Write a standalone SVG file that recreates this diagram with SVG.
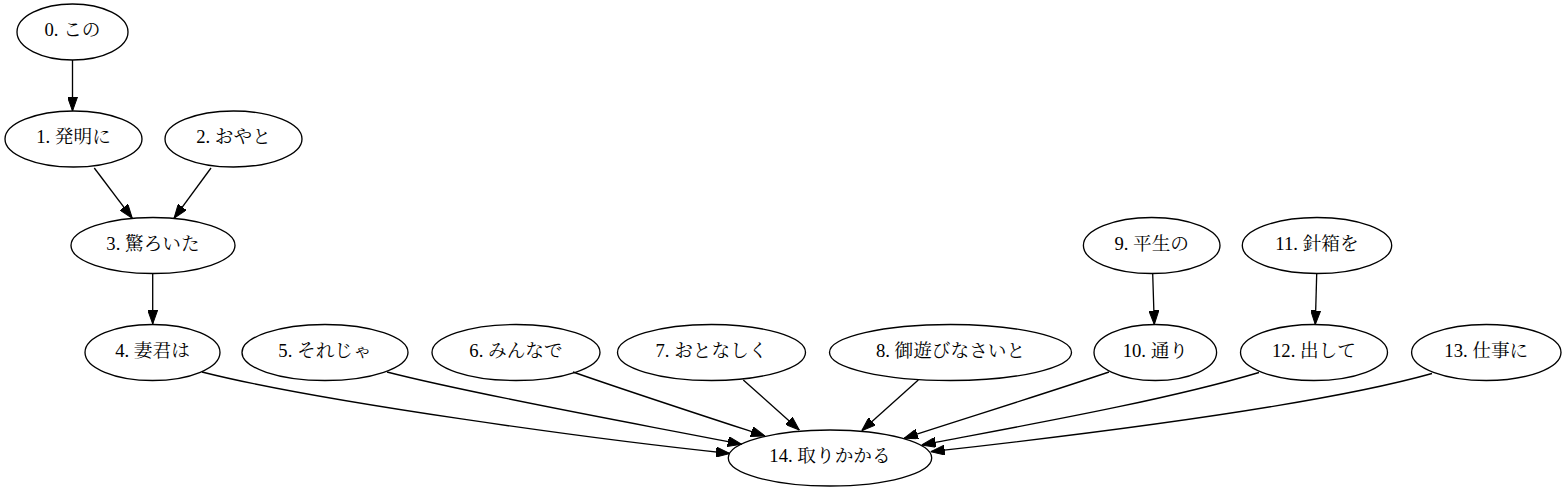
<svg xmlns="http://www.w3.org/2000/svg" width="1566" height="493" viewBox="0 0 1566 493">
<defs>
<style>
.node ellipse{fill:none;stroke:#000;stroke-width:1.33}
.node text{font-family:"Liberation Serif","Noto Serif CJK JP","Noto Sans CJK JP",serif;font-size:18.67px;text-anchor:middle;fill:#000}
.edges path{fill:none;stroke:#000;stroke-width:1.33;marker-end:url(#arrow)}
</style>
<marker id="arrow" markerUnits="userSpaceOnUse" markerWidth="14" markerHeight="10" refX="14" refY="5" orient="auto" viewBox="0 0 14 10">
<path d="M0,0 L14,5 L0,10 Z" fill="#000" stroke="#000" stroke-width="1"/>
</marker>
</defs>
<rect width="1566" height="493" fill="#fff"/>
<g class="edges" id="edges">
<path d="M72.5,60 L72.5,111"/>
<path d="M94.3,168 L132.3,218.3"/>
<path d="M211,168 L174,218.3"/>
<path d="M152.7,273.5 L152.7,324"/>
<path d="M1152.7,274 L1154.3,324.5"/>
<path d="M1316.7,274 L1315.3,324.5"/>
<path d="M202,372 C320,402 600,440 730,453.5"/>
<path d="M387,372 C480,396 650,426 741.7,444.3"/>
<path d="M573,372 C630,392 710,418 765,436"/>
<path d="M743.3,380 L799.3,430"/>
<path d="M918.3,380 L861.7,430.7"/>
<path d="M1109,372 C1050,392 960,420 904,438.3"/>
<path d="M1259,372.5 C1160,402 1010,428 921.7,445"/>
<path d="M1432,373.5 C1320,405 1080,435 930.7,451.7"/>
</g>
<g class="node" id="node0"><ellipse cx="72.5" cy="32" rx="55.5" ry="28"/><text x="72.5" y="36">0. この</text></g>
<g class="node" id="node1"><ellipse cx="73.5" cy="139" rx="68.5" ry="28"/><text x="73.5" y="143">1. 発明に</text></g>
<g class="node" id="node2"><ellipse cx="233.5" cy="139" rx="68.5" ry="28"/><text x="233.5" y="143">2. おやと</text></g>
<g class="node" id="node3"><ellipse cx="153" cy="245.5" rx="82" ry="28"/><text x="153" y="249.5">3. 驚ろいた</text></g>
<g class="node" id="node4"><ellipse cx="152.5" cy="352.5" rx="67.5" ry="28"/><text x="152.5" y="356.5">4. 妻君は</text></g>
<g class="node" id="node5"><ellipse cx="325" cy="352.5" rx="83" ry="28"/><text x="325" y="356.5">5. それじゃ</text></g>
<g class="node" id="node6"><ellipse cx="516" cy="352.5" rx="84" ry="28"/><text x="516" y="356.5">6. みんなで</text></g>
<g class="node" id="node7"><ellipse cx="711.5" cy="352.5" rx="94" ry="28"/><text x="711.5" y="356.5">7. おとなしく</text></g>
<g class="node" id="node8"><ellipse cx="950.5" cy="352.5" rx="121" ry="28"/><text x="950.5" y="356.5">8. 御遊びなさいと</text></g>
<g class="node" id="node9"><ellipse cx="1151.7" cy="245.5" rx="68.3" ry="28"/><text x="1151.7" y="249.5">9. 平生の</text></g>
<g class="node" id="node10"><ellipse cx="1155.3" cy="352.5" rx="61.3" ry="28"/><text x="1155.3" y="356.5">10. 通り</text></g>
<g class="node" id="node11"><ellipse cx="1317" cy="245.5" rx="74.7" ry="28"/><text x="1317" y="249.5">11. 針箱を</text></g>
<g class="node" id="node12"><ellipse cx="1314" cy="352.5" rx="73.5" ry="28"/><text x="1314" y="356.5">12. 出して</text></g>
<g class="node" id="node13"><ellipse cx="1486.3" cy="352.5" rx="74.7" ry="28"/><text x="1486.3" y="356.5">13. 仕事に</text></g>
<g class="node" id="node14"><ellipse cx="830" cy="458" rx="101.7" ry="28"/><text x="830" y="462">14. 取りかかる</text></g>
</svg>
